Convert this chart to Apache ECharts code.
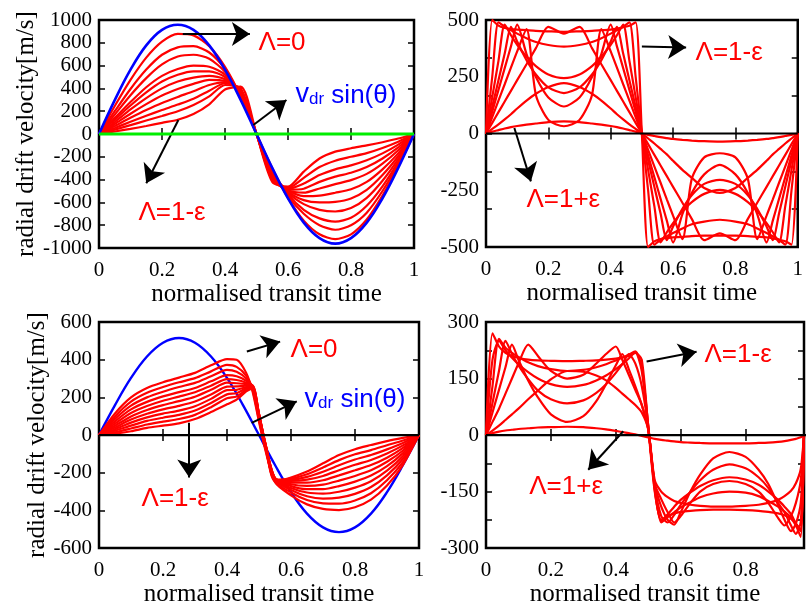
<!DOCTYPE html>
<html><head><meta charset="utf-8">
<script src="https://cdn.jsdelivr.net/npm/echarts@6/dist/echarts.min.js"></script>
<style>html,body{margin:0;padding:0;background:#fff}#c{width:806px;height:608px}</style>
</head><body><div id="c"></div>
<script>
// ---------- Panel 1 (top-left) ----------
const x1 = [0,0.05,0.1,0.15,0.2,0.25,0.3,0.35,0.4,0.45,0.5,0.55,0.6,0.65,0.7,0.75,0.8,0.85,0.9,0.95,1];
const blue1 = [0,297,564,777,913,958,913,777,564,297,0,-297,-564,-777,-913,-962,-913,-777,-564,-297,0];
const red1 = [
  [0,245,475,670,810,878,865,770,590,330,0,-300,-560,-760,-880,-922,-880,-750,-540,-285,0],
  [0,200,395,565,695,760,770,715,570,330,0,-320,-545,-700,-800,-840,-800,-690,-500,-265,0],
  [0,170,340,490,610,680,695,660,545,330,0,-330,-530,-665,-740,-768,-735,-630,-460,-245,0],
  [0,140,280,410,510,570,600,590,520,340,0,-340,-515,-615,-665,-680,-650,-560,-410,-220,0],
  [0,125,250,365,460,520,550,550,500,350,0,-350,-505,-580,-600,-595,-565,-490,-360,-195,0],
  [0,105,215,315,400,460,495,510,480,360,0,-360,-495,-545,-540,-515,-485,-420,-310,-170,0],
  [0,88,178,262,338,395,440,475,465,370,0,-375,-490,-515,-478,-440,-405,-350,-260,-143,0],
  [0,70,142,210,272,325,375,430,455,380,0,-385,-488,-480,-420,-374,-340,-290,-215,-118,0],
  [0,53,107,160,210,258,310,380,445,390,0,-395,-482,-435,-360,-310,-275,-230,-170,-93,0],
  [0,38,78,118,158,200,255,330,430,400,0,-405,-475,-385,-290,-234,-200,-168,-123,-68,0],
  [0,22,45,70,98,125,175,260,390,415,0,-420,-462,-330,-215,-155,-125,-100,-72,-40,0]
];
// ---------- Panel 2 (top-right) ----------
const x2 = [0,0.02,0.04,0.06,0.08,0.1,0.13,0.16,0.2,0.25,0.3,0.34,0.37,0.4,0.42,0.44,0.46,0.48,0.5,
            0.52,0.54,0.56,0.58,0.6,0.63,0.66,0.7,0.75,0.8,0.84,0.87,0.9,0.92,0.94,0.96,0.98,1];
const red2 = [
  [0,500,475,465,460,458,455,452,450,448,450,452,455,458,462,468,475,490,0,
   -500,-475,-465,-460,-458,-455,-452,-450,-450,-450,-452,-455,-458,-462,-468,-475,-490,0],
  [0,250,490,470,455,440,420,403,390,383,390,403,420,440,455,470,490,250,0,
   -250,-490,-468,-452,-438,-418,-400,-388,-380,-388,-400,-418,-438,-452,-468,-490,-250,0],
  [0,160,320,480,433,391,338,297,260,244,260,297,338,391,433,480,320,160,0,
   -160,-320,-480,-435,-395,-342,-302,-266,-248,-266,-302,-342,-395,-435,-480,-320,-160,0],
  [0,118,235,352,470,405,323,260,203,178,203,260,323,405,470,352,235,118,0,
   -118,-235,-352,-470,-410,-332,-272,-222,-204,-222,-272,-332,-410,-470,-352,-235,-118,0],
  [0,96,192,288,384,480,350,249,159,119,159,249,350,480,384,288,192,96,0,
   -96,-192,-288,-384,-480,-355,-262,-180,-138,-180,-262,-355,-480,-384,-288,-192,-96,0],
  [0,72,145,217,290,362,460,170,60,32,60,170,460,362,290,217,145,72,0,
   -72,-145,-217,-290,-362,-465,-200,-105,-87,-105,-200,-465,-362,-290,-217,-145,-72,0],
  [0,20,40,62,85,110,145,175,205,222,205,175,145,110,85,62,40,20,0,
   -22,-44,-68,-92,-120,-160,-195,-240,-262,-240,-195,-160,-120,-92,-68,-44,-22,0],
  [0,8,15,22,28,33,39,44,50,53,50,44,39,33,28,22,15,8,0,
   -6,-11,-16,-20,-24,-28,-31,-34,-36,-34,-31,-28,-24,-20,-16,-11,-6,0],
  [0,47,94,141,188,235,305,376,470,440,470,376,305,235,188,141,94,47,0,
   -47,-94,-141,-188,-235,-305,-376,-470,-440,-470,-376,-305,-235,-188,-141,-94,-47,0]
];
// ---------- Panel 3 (bottom-left) ----------
const x3 = [0,0.05,0.1,0.15,0.2,0.25,0.3,0.35,0.4,0.43,0.46,0.48,0.5,0.52,0.55,0.6,0.65,0.7,0.75,0.8,0.85,0.9,0.95,1];
const blue3 = [0,159,303,417,490,515,490,417,303,159,0,-159,-303,-417,-490,-515,-490,-417,-303,-159,0];
const red3 = [
  [0,115,200,250,280,305,330,370,403,400,330,230,70,-80,-250,-320,-368,-392,-398,-383,-343,-268,-158,0],
  [0,100,178,225,255,280,302,338,372,362,315,240,80,-72,-245,-305,-345,-363,-364,-347,-309,-240,-142,0],
  [0,86,156,200,230,255,277,312,346,336,300,250,90,-65,-240,-292,-325,-337,-332,-312,-276,-214,-126,0],
  [0,73,136,176,205,228,250,285,318,312,288,258,100,-58,-235,-281,-305,-311,-301,-279,-245,-189,-111,0],
  [0,61,117,154,182,204,227,262,297,292,278,262,105,-52,-230,-271,-287,-287,-271,-247,-215,-165,-96,0],
  [0,50,99,133,159,180,203,240,278,275,270,262,110,-48,-228,-261,-270,-263,-242,-217,-187,-142,-82,0],
  [0,40,82,113,136,155,178,215,257,258,262,262,112,-45,-228,-252,-253,-240,-214,-187,-159,-120,-68,0],
  [0,31,66,94,114,130,153,192,238,240,255,260,112,-45,-232,-244,-237,-217,-187,-158,-132,-98,-55,0],
  [0,23,50,75,92,107,130,170,216,222,248,256,110,-47,-236,-237,-222,-195,-160,-130,-106,-76,-42,0],
  [0,15,35,56,71,85,107,148,195,205,240,252,105,-50,-240,-231,-208,-172,-133,-102,-80,-54,-29,0],
  [0,8,20,38,50,62,85,122,163,188,232,248,100,-55,-245,-225,-194,-150,-106,-75,-53,-32,-15,0]
];
// ---------- Panel 4 (bottom-right) ----------
const x4 = [0,0.02,0.04,0.06,0.08,0.1,0.13,0.16,0.2,0.25,0.3,0.34,0.37,0.4,0.42,0.44,0.46,0.48,0.5,
            0.52,0.54,0.56,0.58,0.6,0.63,0.66,0.7,0.75,0.8,0.84,0.87,0.9,0.92,0.94,0.955,0.97,0.98];
const red4 = [
  [0,270,235,218,210,205,200,198,197,196,197,198,200,203,206,210,218,200,20,
   -150,-225,-215,-208,-204,-201,-199,-198,-198,-199,-201,-204,-208,-213,-222,-240,-270,0],
  [0,130,255,232,218,207,193,183,175,170,173,180,188,198,205,213,222,180,25,
   -140,-232,-218,-205,-192,-178,-165,-155,-150,-153,-162,-175,-190,-203,-218,-235,-250,0],
  [0,200,250,225,205,188,167,150,135,128,133,145,158,175,188,203,220,170,25,
   -145,-228,-210,-190,-172,-152,-135,-120,-112,-118,-132,-150,-172,-190,-210,-235,-255,0],
  [0,85,170,250,215,185,148,118,95,84,92,112,135,165,188,215,190,130,20,
   -135,-215,-232,-212,-185,-150,-120,-92,-78,-88,-112,-140,-180,-205,-240,-262,-230,0],
  [0,60,120,180,240,200,145,100,55,35,50,90,135,185,215,175,130,80,15,
   -130,-190,-225,-238,-205,-150,-105,-62,-45,-58,-92,-130,-185,-225,-255,-235,-180,0],
  [0,12,25,40,55,70,95,118,148,170,168,158,145,125,110,95,80,60,15,
   -120,-150,-165,-175,-180,-185,-188,-190,-190,-188,-185,-180,-172,-162,-148,-128,-90,0],
  [0,35,70,110,150,190,240,210,170,150,160,190,215,235,200,160,120,80,15,
   -130,-170,-205,-232,-215,-180,-150,-130,-122,-130,-150,-180,-220,-240,-215,-180,-120,0],
  [0,5,9,12,14,16,18,20,21,22,21,18,15,11,8,5,2,-2,-6,
   -10,-13,-15,-17,-19,-20,-21,-22,-22,-22,-21,-20,-18,-16,-13,-10,-6,0]
];
const zeroX = [0, 1];
const zeroY = [0, 0];
// ---------- Annotations (data coordinates) ----------
const arrows = [
  [[0.266,877,0.479,877],[0.252,123,0.15,-432],[0.49,79,0.595,298]],
  [[0.5,383,0.642,379],[0.091,24,0.144,-211]],
  [[0.462,443,0.566,496],[0.477,65,0.618,179],[0.282,65,0.282,-225]],
  [[0.495,195,0.649,221],[0.423,10,0.315,-92]]
];
const notes = [
  [[0.581,798,'Λ=0','red'],[0.232,-693,'Λ=1-ε','red'],[0.784,342,'vdr','blue']],
  [[0.78,355,'Λ=1-ε','red'],[0.248,-292,'Λ=1+ε','red']],
  [[0.672,452,'Λ=0','red'],[0.238,-340,'Λ=1-ε','red'],[0.8,188,'vdr','blue']],
  [[0.777,213,'Λ=1-ε','red'],[0.247,-137,'Λ=1+ε','red']]
];

const SERIF = "'Liberation Serif','Times New Roman',Times,serif";
const SANS = "'Liberation Sans',Arial,Helvetica,sans-serif";
const RED = '#ff0000', BLUE = '#0000ff', GREEN = '#00ee00', BLACK = '#000000';

const panels = [
  {grid:{left:99,top:20,width:315,height:228}, xmax:1, ymin:-1000, ymax:1000, yLab:200, yTick:200, yName:'radial drift velocity[m/s]', yNameGap:60, xNameGap:23, xNamePad:[0,0,0,20]},
  {grid:{left:486,top:20,width:318,height:227}, xmax:1, ymin:-500, ymax:500, yLab:250, yTick:500/3, yName:'', yNameGap:0, xNameGap:23, xNamePad:0},
  {grid:{left:99,top:322,width:320,height:227}, xmax:1, ymin:-600, ymax:600, yLab:200, yTick:200, yName:'radial drift velocity[m/s]', yNameGap:43, xNameGap:22, xNamePad:0},
  {grid:{left:486,top:322,width:318,height:227}, xmax:0.98, ymin:-300, ymax:300, yLab:150, yTick:75, yName:'', yNameGap:0, xNameGap:22, xNamePad:0}
];

const grids = [], xAxes = [], yAxes = [], series = [];
const tick = {show:true, inside:true, length:6, lineStyle:{color:BLACK, width:1.5}};
const plain = v => String(v);
panels.forEach((p, g) => {
  grids.push(Object.assign({show:true, borderColor:BLACK, borderWidth:2.5, backgroundColor:'transparent', containLabel:false}, p.grid));
  xAxes.push({gridIndex:g, type:'value', position:'bottom', min:0, max:p.xmax, interval:0.2,
    axisLine:{show:false}, splitLine:{show:false}, axisTick:tick,
    axisLabel:{color:BLACK, fontFamily:SERIF, fontSize:21, margin:12, formatter:plain, showMaxLabel: g === 3 ? false : true},
    name:'normalised transit time', nameLocation:'middle', nameGap:p.xNameGap,
    nameTextStyle:{color:BLACK, fontFamily:SERIF, fontSize:25, padding:p.xNamePad}});
  xAxes.push({gridIndex:g, type:'value', position:'top', min:0, max:p.xmax, interval:0.2,
    axisLine:{show:false}, splitLine:{show:false}, axisTick:tick, axisLabel:{show:false}});
  yAxes.push({gridIndex:g, type:'value', position:'left', min:p.ymin, max:p.ymax, interval:p.yLab,
    axisLine:{show:false}, splitLine:{show:false}, axisTick:{show:false},
    axisLabel:{color:BLACK, fontFamily:SERIF, fontSize:21, margin:7, formatter:plain},
    name:p.yName, nameLocation:'middle', nameGap:p.yNameGap,
    nameTextStyle:{color:BLACK, fontFamily:SERIF, fontSize:25}});
  yAxes.push({gridIndex:g, type:'value', position:'left', min:p.ymin, max:p.ymax, interval:p.yTick,
    axisLine:{show:false}, splitLine:{show:false}, axisTick:tick, axisLabel:{show:false}});
  yAxes.push({gridIndex:g, type:'value', position:'right', min:p.ymin, max:p.ymax, interval:p.yTick,
    axisLine:{show:false}, splitLine:{show:false}, axisTick:tick, axisLabel:{show:false}});
});

function pts(xs, ys) { return xs.map((x, i) => [x, ys[i]]); }
function line(g, xs, ys, color, width, z, smooth) {
  return {type:'line', xAxisIndex:2*g, yAxisIndex:3*g, data:pts(xs, ys), symbol:'none', showSymbol:false,
    smooth:smooth, lineStyle:{color:color, width:width}, z:z, silent:true, animation:false};
}
function annotate(s, g) {
  s.markLine = {silent:true, animation:false, symbol:['none','arrow'], symbolSize:18, label:{show:false},
    lineStyle:{color:BLACK, width:2, type:'solid'},
    data: arrows[g].map(a => [{coord:[a[0], a[1]]}, {coord:[a[2], a[3]]}])};
  s.markPoint = {silent:true, animation:false, symbol:'rect', symbolSize:1, itemStyle:{color:'rgba(0,0,0,0)'},
    data: notes[g].map(n => {
      const lab = n[2] === 'vdr'
        ? {show:true, position:'inside', formatter:'{a|v}{b|dr}{c| sin(θ)}',
           rich:{a:{fontFamily:SANS, fontSize:27, color:BLUE, verticalAlign:'bottom'},
                 b:{fontFamily:SANS, fontSize:17, color:BLUE, verticalAlign:'bottom', padding:[0,0,1,0]},
                 c:{fontFamily:SANS, fontSize:26, color:BLUE, verticalAlign:'bottom'}}}
        : {show:true, position:'inside', formatter:n[2], fontFamily:SANS, fontSize:26, color:RED};
      return {coord:[n[0], n[1]], label:lab};
    })};
  return s;
}

// Panel 1
red1.forEach(c => series.push(line(0, x1, c, RED, 2.2, 3, 0.25)));
series.push(line(0, x1, blue1, BLUE, 2.6, 4, 0.4));
series.push(annotate(line(0, zeroX, zeroY, GREEN, 3.2, 5, false), 0));
// Panel 2
red2.forEach(c => series.push(line(1, x2, c, RED, 2.2, 3, 0.25)));
series.push(annotate(line(1, zeroX, zeroY, BLACK, 2.2, 5, false), 1));
// Panel 3
red3.forEach(c => series.push(line(2, x3, c, RED, 2.2, 3, 0.25)));
series.push(line(2, x1, blue3, BLUE, 2.4, 2, 0.4));
series.push(annotate(line(2, zeroX, zeroY, BLACK, 2.2, 5, false), 2));
// Panel 4
red4.forEach(c => series.push(line(3, x4, c, RED, 2.2, 3, 0.25)));
series.push(annotate(line(3, zeroX, zeroY, BLACK, 2.2, 5, false), 3));

const chart = echarts.init(document.getElementById('c'), null, {renderer:'canvas'});
chart.setOption({animation:false, backgroundColor:'#ffffff', grid:grids, xAxis:xAxes, yAxis:yAxes, series:series});
</script></body></html>
